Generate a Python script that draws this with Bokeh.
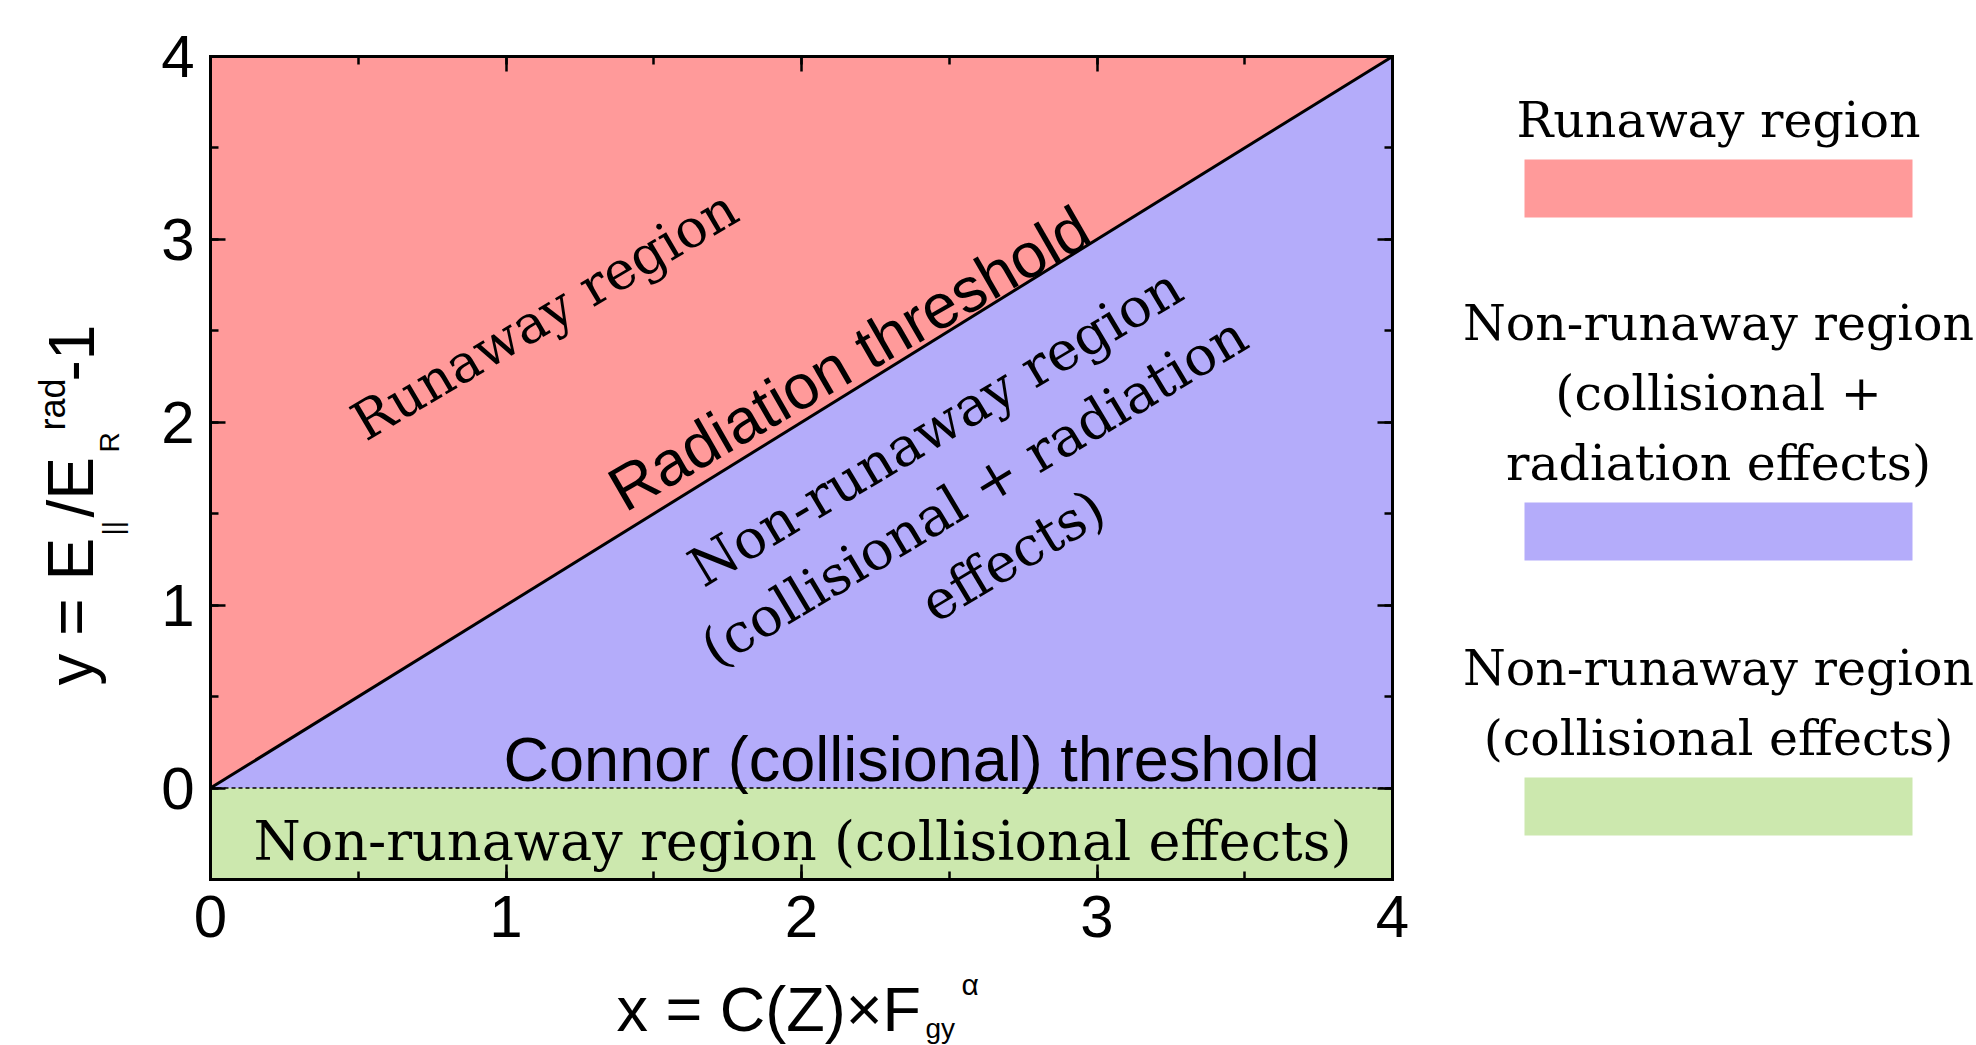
import math
from bokeh.plotting import figure
from bokeh.models import (Range1d, LinearAxis, SingleIntervalTicker, Label,
                          CustomJSTickFormatter)
from bokeh.embed import file_html
from bokeh.resources import INLINE
from bokeh.core.properties import value

# ---------------- data ----------------
region_names = ["Runaway region",
                "Non-runaway region\n(collisional +\nradiation effects)",
                "Non-runaway region\n(collisional effects)"]
region_colors = ["#FF9A9A", "#B4ACFA", "#CCE8AE"]
x_limits = [0, 4]
y_limits = [-0.5, 4]
radiation_x = [0, 4]          # radiation threshold line
radiation_y = [0, 4]
connor_y = 0                  # Connor (collisional) threshold
x_tick_interval = 1
y_tick_interval = 1

SANS = "Liberation Sans"
SERIF = "DejaVu Serif"

# ---------------- layout constants (canvas pixels) ----------------
W, H = 1976, 1045
FL, FT, FW, FH = 210, 56, 1182, 823          # plot box
XS = FW / (x_limits[1] - x_limits[0])
YS = FH / (y_limits[1] - y_limits[0])
K = 0.3                                        # baseline correction (fraction of font size)

def dx(X):
    return x_limits[0] + (X - FL) / XS

def dy(Y):
    return y_limits[1] - (Y - FT) / YS

def anchor(X, Y, size, ang):
    d = K * size
    a = math.radians(ang)
    return dx(X - d * math.sin(a)), dy(Y - d * math.cos(a))

p = figure(width=W, height=H, x_range=Range1d(dx(0), dx(W)), y_range=Range1d(dy(H), dy(0)),
           min_border=0, x_axis_type=None, y_axis_type=None,
           output_backend="svg", toolbar_location=None)
p.grid.visible = False
p.outline_line_color = None
p.background_fill_color = "white"
p.border_fill_color = "white"

# regions
red_x = [radiation_x[0], radiation_x[1], x_limits[0]]
red_y = [radiation_y[0], radiation_y[1], y_limits[1]]
blue_x = [radiation_x[0], radiation_x[1], x_limits[1]]
blue_y = [connor_y, radiation_y[1], connor_y]
p.patch(red_x, red_y, fill_color=region_colors[0], line_color=None)
p.patch(blue_x, blue_y, fill_color=region_colors[1], line_color=None)
p.quad(left=[x_limits[0]], right=[x_limits[1]], bottom=[y_limits[0]], top=[connor_y],
       fill_color=region_colors[2], line_color=None)

# thresholds
p.line(radiation_x, radiation_y, line_color="black", line_width=3)
p.line(x_limits, [connor_y, connor_y], line_color="black", line_width=1.5, line_dash="4 3")

# axes (library axes, fixed on the plot box)
def make_axis(loc, bounds, interval, labels):
    ax = LinearAxis(fixed_location=loc, bounds=tuple(bounds),
                    ticker=SingleIntervalTicker(interval=interval, num_minor_ticks=2))
    ax.axis_line_width = 3
    ax.axis_line_color = "black"
    ax.axis_line_cap = "square"
    ax.major_tick_in = 15
    ax.major_tick_out = 0
    ax.minor_tick_in = 8
    ax.minor_tick_out = 0
    ax.major_tick_line_width = 2.5
    ax.minor_tick_line_width = 2.5
    ax.major_tick_line_color = "black"
    ax.minor_tick_line_color = "black"
    if labels:
        ax.major_label_text_font = SANS
        ax.major_label_text_font_size = "60px"
        ax.major_label_text_color = "black"
    else:
        ax.formatter = CustomJSTickFormatter(code="return ''")
        ax.major_label_text_font_size = "1px"
        ax.major_label_standoff = 0
    return ax

ax_b = make_axis(y_limits[0], x_limits, x_tick_interval, True)
ax_b.major_label_standoff = 16
ax_l = make_axis(x_limits[0], y_limits, y_tick_interval, True)
ax_l.major_label_standoff = 16
ax_t = make_axis(y_limits[1], x_limits, x_tick_interval, False)
ax_r = make_axis(x_limits[1], y_limits, y_tick_interval, False)
p.add_layout(ax_b, "below")
p.add_layout(ax_l, "left")
p.add_layout(ax_t, "above")
p.add_layout(ax_r, "right")

# texts (canvas positions of the baseline anchor)
def lab(X, Y, text, font, size, ang=0, align="center"):
    x, y = anchor(X, Y, size, ang)
    p.add_layout(Label(x=x, y=y, text=text, text_font=font, text_font_size=f"{size}px",
                       angle=math.radians(ang), text_align=align, text_baseline="alphabetic",
                       text_color="black"))

lab(552, 328, "Runaway region", SERIF, 53, 30.6)
lab(858, 374, "Radiation threshold", SANS, 63, 30)

mid_lines = ["Non-runaway region", "(collisional + radiation", "effects)"]
mid_ang, mid_step, mid_size = 31, 75, 54
cx, cy = 982, 505
nx, ny = math.sin(math.radians(mid_ang)), math.cos(math.radians(mid_ang))
for k, ln in enumerate(mid_lines):
    off = (k - 1) * mid_step
    lab(cx + off * nx, cy + off * ny, ln, SERIF, mid_size, mid_ang)

lab(911, 777, "Connor (collisional) threshold", SANS, 63)
lab(802, 857, region_names[2].replace("\n", " "), SERIF, 54)

# axis titles
lab(616, 1027, "x = C(Z)\u00d7F", SANS, 63, 0, "left")
lab(961, 993, "\u03b1", SANS, 30, 0, "left")
lab(925, 1036, "gy", SANS, 28, 0, "left")

lab(90, 685, "y = E", SANS, 64, 90, "left")
lab(120, 535, "||", SANS, 28, 90, "left")
lab(90, 517, "/E", SANS, 64, 90, "left")
lab(117, 452, "R", SANS, 28, 90, "left")
lab(63, 430, "rad", SANS, 36, 90, "left")
lab(90, 381, "-1", SANS, 64, 90, "left")

# ---------------- legend (right side) ----------------
first_baseline = [135, 338, 683]
line_step = 70
bar_gap, bar_h = 24, 58
bar_left, bar_right, text_cx = 1524, 1912, 1718
leg_size = 49

tx, ty, tt = [], [], []
bl, br, bt, bb, bc = [], [], [], [], []
for name, col, fb in zip(region_names, region_colors, first_baseline):
    lines = name.split("\n")
    for k, ln in enumerate(lines):
        x, y = anchor(text_cx, fb + k * line_step, leg_size, 0)
        tx.append(x); ty.append(y); tt.append(ln)
    top = fb + (len(lines) - 1) * line_step + bar_gap
    bl.append(dx(bar_left)); br.append(dx(bar_right))
    bt.append(dy(top)); bb.append(dy(top + bar_h)); bc.append(col)

p.quad(left=bl, right=br, top=bt, bottom=bb, fill_color=bc, line_color=None)
p.text(x=tx, y=ty, text=tt, text_font=value(SERIF), text_font_size=f"{leg_size}px",
       text_align="center", text_baseline="alphabetic", text_color="black")

open("out.html", "w").write(file_html(p, INLINE))
